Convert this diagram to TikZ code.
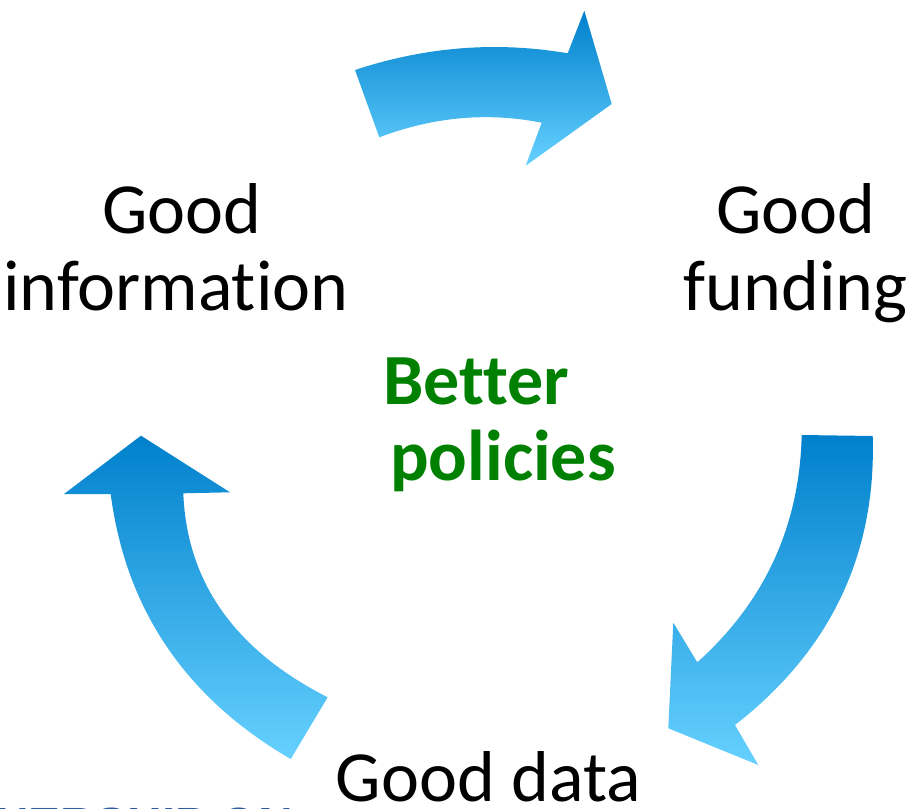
\documentclass[tikz,border=0pt]{standalone}
\usepackage{fontspec}
\setmainfont{Carlito}[RawFeature={-liga,-dlig,-clig}]
\newfontfamily\logofont{Liberation Sans}
\definecolor{arrdark}{HTML}{0080CC}
\definecolor{arrlight}{HTML}{66D1FF}
\definecolor{polgreen}{HTML}{008000}
\definecolor{logoblue}{HTML}{2E5AA6}
\begin{document}
\begin{tikzpicture}[x=1pt,y=-1pt,
  blockarrow/.style={top color=arrdark, bottom color=arrlight, draw=none},
  lbl/.style={inner sep=0pt, anchor=base, font=\fontsize{72}{78}\selectfont},
  pol/.style={inner sep=0pt, anchor=base west, text=polgreen, font=\fontsize{72}{78}\selectfont\bfseries}]
\useasboundingbox (0,0) rectangle (911,809);
\clip (0,0) rectangle (911,809);
% top arrow (information -> funding)
\path[blockarrow] (355,70) .. controls (425.5,46.7) and (496.4,41.1) .. (567.7,53.3) -- (584.3,10.7) -- (611.7,104) -- (525.7,165.7) -- (541.7,122.7) .. controls (487.6,112.0) and (433.4,116.8) .. (379.3,137.3) -- cycle;
% right arrow (funding -> data)
\path[blockarrow] (801.7,435) -- (872.7,436) .. controls (876.4,554.3) and (830.5,650.7) .. (735,725) -- (758.3,765) -- (668.3,728.3) -- (673.3,622.7) -- (697.3,662.3) .. controls (764.8,601.7) and (799.6,525.9) .. (801.7,435) -- cycle;
% left arrow (data -> information)
\path[blockarrow] (141,435.7) -- (230,492.3) -- (183.3,493.3) .. controls (186.8,582.2) and (234.9,650.2) .. (327.7,697.3) -- (290.7,759) .. controls (185.8,698) and (125.8,609.7) .. (110.7,494) -- (64,494) -- cycle;
% labels
\node[lbl] (infoA) at (181.7,233.3) {Good};
\node[lbl] (infoB) at (175.8,310) {information};
\node[lbl] (fundA) at (795.8,233.3) {Good};
\node[lbl] (fundB) at (795.8,310) {funding};
\node[lbl] (data) at (488.4,801.7) {Good data};
\node[pol] (polA) at (383,404) {Better};
\node[pol] (polB) at (390,480) {policies};
\node[inner sep=0pt, anchor=base west, text=logoblue, font=\fontsize{48}{50}\logofont\bfseries] (logo) at (-6,841) {NERSHIP ON};
\end{tikzpicture}
\end{document}
